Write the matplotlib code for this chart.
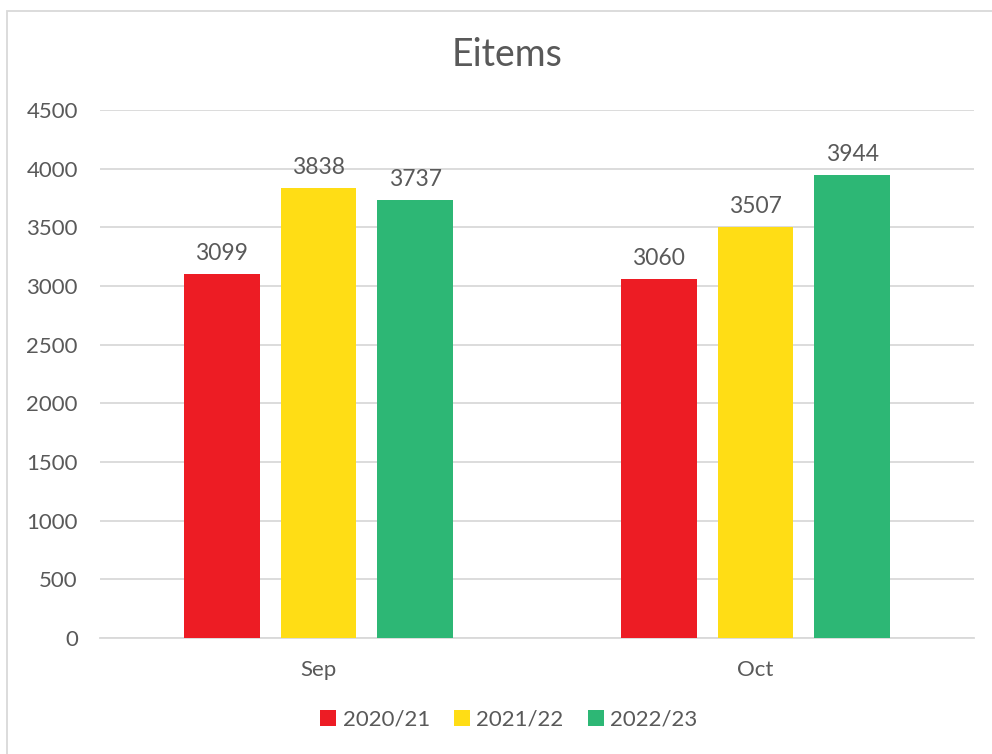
import numpy as np
import matplotlib
matplotlib.use('Agg')
import matplotlib.pyplot as plt
from matplotlib.patches import Rectangle

# données du graphique
categories = ["Sep", "Oct"]
series = ["2020/21", "2021/22", "2022/23"]
valeurs = {
    "2020/21": [3099, 3060],
    "2021/22": [3838, 3507],
    "2022/23": [3737, 3944],
}
couleurs = ["#ED1C24", "#FFDD15", "#2DB775"]
yticks = [0, 500, 1000, 1500, 2000, 2500, 3000, 3500, 4000, 4500]

plt.rcParams['font.family'] = ['Lato', 'DejaVu Sans']
texte = "#595959"

fig = plt.figure(figsize=(9.92, 7.54), dpi=100)
ax = fig.add_axes([100 / 992, 1 - 638 / 754, 874 / 992, 528 / 754])

x = np.arange(len(categories))
largeur = 0.173
pas = 0.221
for i, (s, c) in enumerate(zip(series, couleurs)):
    xs = x + (i - 1) * pas
    ax.bar(xs, valeurs[s], largeur, color=c, label=s, zorder=3)
    for xi, v in zip(xs, valeurs[s]):
        ax.text(xi, v + 85, str(v), ha='center', va='bottom', fontsize=16.5, color=texte)

ax.set_xlim(-0.5, 1.5)
ax.set_ylim(0, 4500)
ax.set_yticks(yticks)
ax.set_xticks(x)
ax.set_xticklabels(categories)
ax.tick_params(axis='both', length=0, labelsize=16, labelcolor=texte)
ax.tick_params(axis='y', pad=16)
ax.tick_params(axis='x', pad=16)
ax.grid(axis='y', color='#D9D9D9', linewidth=1.3, zorder=0)
for sp in ['top', 'right', 'left']:
    ax.spines[sp].set_visible(False)
ax.spines['bottom'].set_color('#D9D9D9')
ax.spines['bottom'].set_linewidth(1.3)

fig.text(507 / 992, 1 - 55 / 754, "Eitems", ha='center', va='center', fontsize=27, color=texte)

fig.legend(loc='center', bbox_to_anchor=(509 / 992, 1 - 720 / 754), ncol=3, frameon=False,
           fontsize=16, handlelength=0.7, handleheight=0.7, handletextpad=0.3,
           columnspacing=1.1, labelcolor=texte)

# cadre du graphique
fig.patches.append(Rectangle((6.5 / 992, -0.1), 1.2, 1 - 10.5 / 754 + 0.1, transform=fig.transFigure,
                             fill=False, edgecolor='#D9D9D9', linewidth=1.3))

fig.savefig("out.png", dpi=100)
